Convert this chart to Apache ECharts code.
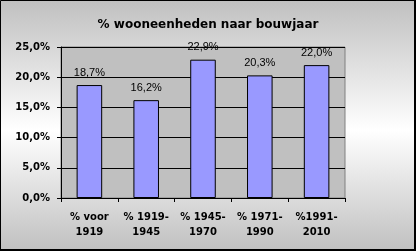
<!DOCTYPE html>
<html>
<head>
<meta charset="utf-8">
<script src="https://cdn.jsdelivr.net/npm/echarts@6/dist/echarts.min.js"></script>
<style>
  html, body { margin: 0; padding: 0; }
  #chart { width: 416px; height: 251px; }
</style>
</head>
<body>
<div id="chart"></div>
<script>
// categorieën en waarden (percentage woningen per bouwperiode)
var categories = ['% voor\n1919', '% 1919-\n1945', '% 1945-\n1970', '% 1971-\n1990', '%1991-\n2010'];
var values = [18.7, 16.2, 22.9, 20.3, 22.0];
var yTicks = [0, 5, 10, 15, 20, 25];

var fmt = function (v) {
    return v.toFixed(1).replace('.', ',') + '%';
};

var myChart = echarts.init(document.getElementById('chart'));

var option = {
    animation: false,
    backgroundColor: {
        type: 'linear', x: 0, y: 0, x2: 0, y2: 1,
        colorStops: [
            { offset: 0, color: '#c0c0c0' },
            { offset: 0.52, color: '#ffffff' },
            { offset: 1, color: '#c0c0c0' }
        ]
    },
    title: {
        text: '% wooneenheden naar bouwjaar',
        left: 'center',
        top: 14,
        textStyle: {
            fontFamily: 'DejaVu Sans',
            fontWeight: 'bold',
            fontSize: 12,
            color: '#000'
        }
    },
    grid: {
        left: 61,
        right: 71,
        top: 47,
        bottom: 53,
        show: true,
        backgroundColor: '#c0c0c0',
        borderColor: '#808080',
        borderWidth: 1
    },
    xAxis: {
        type: 'category',
        data: categories,
        axisLine: { lineStyle: { color: '#000', width: 1 } },
        axisTick: { show: true, length: 4, lineStyle: { color: '#000' } },
        axisLabel: {
            interval: 0,
            hideOverlap: false,
            margin: 12,
            fontFamily: 'DejaVu Sans',
            fontWeight: 'bold',
            fontSize: 10,
            lineHeight: 15,
            color: '#000'
        }
    },
    yAxis: {
        type: 'value',
        min: yTicks[0],
        max: yTicks[yTicks.length - 1],
        interval: 5,
        axisLine: { show: true, lineStyle: { color: '#000', width: 1 } },
        axisTick: { show: true, length: 4, lineStyle: { color: '#000' } },
        splitLine: { show: true, lineStyle: { color: '#000', width: 1 } },
        axisLabel: {
            margin: 11,
            fontFamily: 'DejaVu Sans',
            fontWeight: 'bold',
            fontSize: 10,
            color: '#000',
            formatter: fmt
        }
    },
    series: [{
        type: 'bar',
        data: values,
        barWidth: '45%',
        itemStyle: {
            color: '#9999ff',
            borderColor: '#000',
            borderWidth: 1
        },
        label: {
            show: true,
            position: 'top',
            distance: 7,
            fontFamily: 'Liberation Sans',
            fontSize: 11,
            color: '#000',
            formatter: function (p) { return fmt(p.value); }
        }
    }],
    graphic: [{
        type: 'rect',
        shape: { x: 0.5, y: 0.5, width: 414, height: 249 },
        style: { fill: 'none', stroke: '#000', lineWidth: 1 },
        silent: true
    }, {
        type: 'rect',
        shape: { x: 414, y: 0, width: 2, height: 251 },
        style: { fill: '#000' },
        silent: true
    }, {
        type: 'rect',
        shape: { x: 0, y: 249, width: 416, height: 2 },
        style: { fill: '#000' },
        silent: true
    }]
};

myChart.setOption(option);
</script>
</body>
</html>
